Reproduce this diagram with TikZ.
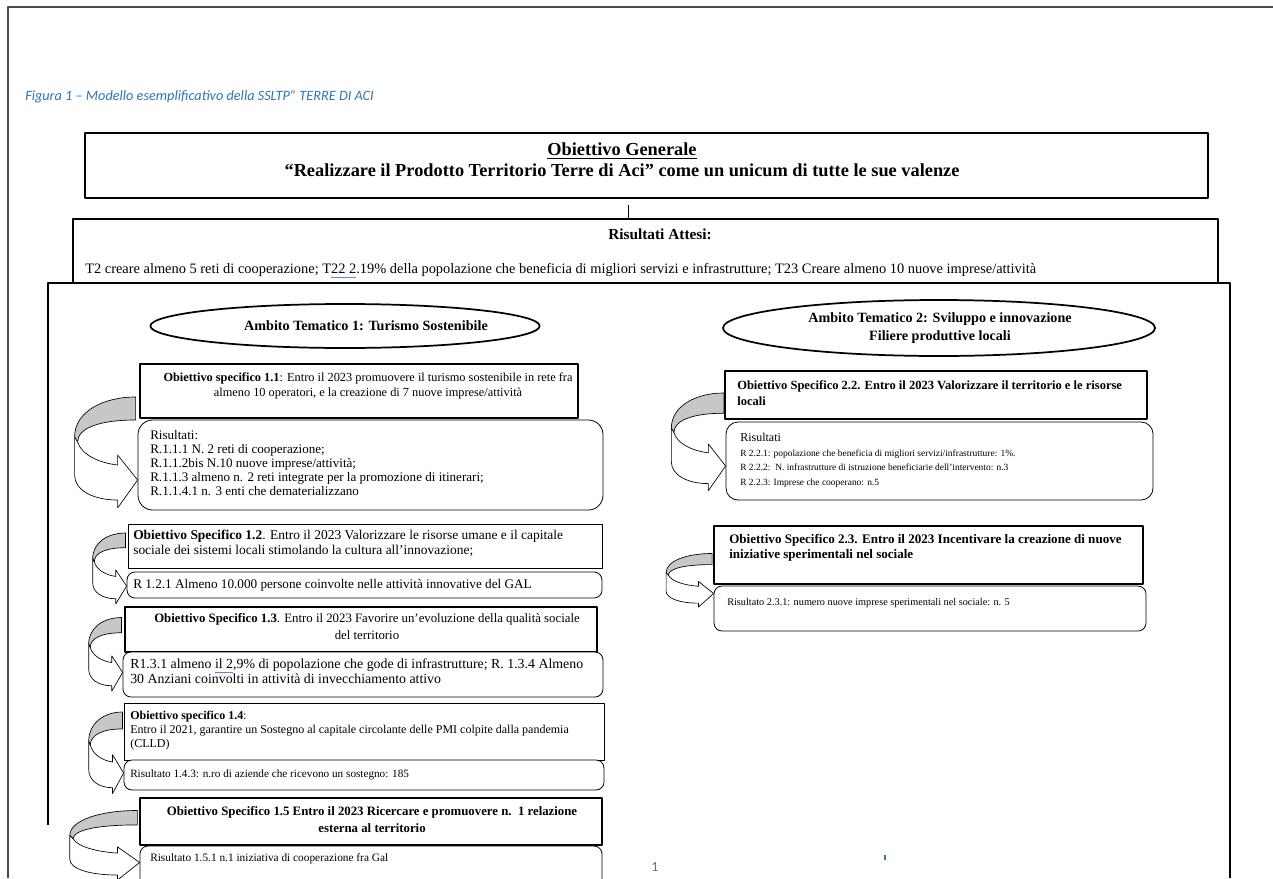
\documentclass[tikz,border=0pt]{standalone}
\usepackage{fontspec}
\setmainfont{Liberation Serif}
\newfontfamily\calibri{Carlito}
\usetikzlibrary{positioning,fit,calc,shapes.geometric}
\definecolor{capblue}{RGB}{46,116,181}

\tikzset{
	osbox/.style = {draw, line width=1.8pt, fill=white, inner sep=0pt},
	osthin/.style = {draw, line width=0.6pt, fill=white, inner sep=0pt},
	resbox/.style = {draw, line width=0.6pt, rounded corners=6pt, fill=white, inner sep=0pt},
	ambito/.style = {draw, ellipse, line width=1.3pt, inner sep=0pt},
	ambtxt/.style = {inner sep=0pt, align=center, font=\fontsize{10.6}{13.5}\selectfont\bfseries},
	txt/.style = {inner sep=0pt, align=left},
	ctxt/.style = {inner sep=0pt, align=center},
	squiggle/.style = {capblue!80, line width=0.6pt}
}

% curved arrow from an objective to its results: tip, width, height (px)
\newcommand\curvarrow[3]{%
	\begin{scope}[shift={(#1)}, xscale=#2/65, yscale=#3/83, line width=0.5pt]
		\filldraw[fill=black!22] (-2,-83) .. controls (-35,-83) and (-63,-68) .. (-63,-43)
			-- (-60,-38) .. controls (-60,-52) and (-38,-60) .. (-2,-60) -- cycle;
		\filldraw[fill=white] (-63,-43) -- (-63,-5) .. controls (-63,10) and (-45,20) .. (-20,20)
			-- (-20,28) -- (0,0) -- (-20,-25) -- (-20,-15)
			.. controls (-38,-17) and (-56,-25) .. (-60,-38) -- cycle;
	\end{scope}}

\begin{document}
\begin{tikzpicture}[x=0.75pt, y=-0.75pt, line join=round]
	\useasboundingbox (0,0) rectangle (1273,878);
	\clip (0,0) rectangle (1273,878);
	\draw[line width=1pt, black!70] (8,878) -- (8,7) -- (1273,7);
	\node[anchor=mid west, inner sep=0pt, text=capblue, font=\calibri\itshape\fontsize{10.7}{12}\selectfont] (fig) at (25,97) {Figura 1 – Modello esemplificativo della SSLTP” TERRE DI ACI};

	% obiettivo generale
	\node[draw, line width=0.8pt, inner sep=0pt, fit={(85,133) (1208,198)}] (og) {};
	\node[ctxt, anchor=north, font=\fontsize{13.75}{15.75}\selectfont\bfseries] (ogt) at (622,143) {\underline{Obiettivo Generale}\\“Realizzare il Prodotto Territorio Terre di Aci” come un unicum di tutte le sue valenze};
	\node[draw, line width=0.8pt, inner sep=0pt, fit={(73,219) (1218,300)}] (ra) {};
	\coordinate (c1) at (628,205);
	\draw (c1) -- (c1 |- ra.north);
	\node[anchor=mid, inner sep=0pt, font=\fontsize{11.5}{13}\selectfont\bfseries] (rat) at (660,236) {Risultati Attesi:};
	\node[anchor=mid west, inner sep=0pt, font=\fontsize{10.8}{12}\selectfont] (rat2) at (85,270) {T2 creare almeno 5 reti di cooperazione; T22 2.19\% della popolazione che beneficia di migliori servizi e infrastrutture; T23 Creare almeno 10 nuove imprese/attività};
	\draw[squiggle] (331,277) -- (356,277);

	% ambiti
	\fill[white] (48,283) rectangle (1230,878);
	\draw[line width=0.8pt] (48,825) -- (48,283) -- (1230,283) -- (1230,878);
	\node[ambito, minimum width=292pt, minimum height=33pt] (amb1) at (345,326) {};
	\node[ambtxt] (amb1t) at (366,326) {Ambito Tematico 1: Turismo Sostenibile};
	\node[ambito, minimum width=324pt, minimum height=42pt] (amb2) at (939,328) {};
	\node[ambtxt] (amb2t) at (940,328) {Ambito Tematico 2: Sviluppo e innovazione\\Filiere produttive locali};

	% boxes, left
	\node[osbox, fit={(140,364) (578,418)}] (os11) {};
	\node[resbox, rounded corners=11pt, fit={(138,420) (603,510)}] (r11) {};
	\node[osthin, fit={(128,524) (602,568)}] (os12) {};
	\node[resbox, fit={(127,572) (602,598)}] (r12) {};
	\node[osbox, fit={(125,607) (597,652)}] (os13) {};
	\node[resbox, fit={(123,652) (603,697)}] (r13) {};
	\node[osthin, fit={(124,703) (604,760)}] (os14) {};
	\node[resbox, fit={(124,760) (604,790)}] (r14) {};
	\node[osbox, fit={(140,798) (602,845)}] (os15) {};
	\node[resbox, fit={(140,846) (602,895)}] (r15) {};
	% boxes, right
	\node[osbox, fit={(725,371) (1147,419)}] (os22) {};
	\node[resbox, rounded corners=9pt, fit={(726,422) (1153,500)}] (r22) {};
	\node[osbox, fit={(714,526) (1143,584)}] (os23) {};
	\node[resbox, fit={(714,586) (1146,631)}] (r23) {};

	% arrows
	\curvarrow{$(r11.west)+(0,15)$}{65}{83}
	\curvarrow{$(r12.west)+(0,1)$}{35}{53}
	\curvarrow{$(r13.west)+(0,-2)$}{35}{55}
	\curvarrow{$(r14.west)+(0,-2)$}{36}{61}
	\curvarrow{$(r15.west)+(0,-8)$}{72}{52}
	\curvarrow{$(r22.west)+(0,5)$}{56}{73}
	\curvarrow{$(r23.west)+(0,-15)$}{49}{40}

	% texts, left
	\node[ctxt, anchor=north, font=\fontsize{9.25}{11.25}\selectfont] (os11t) at (368,372.5) {\textbf{Obiettivo specifico 1.1}: Entro il 2023 promuovere il turismo sostenibile in rete fra\\almeno 10 operatori, e la creazione di 7 nuove imprese/attività};
	\node[txt, anchor=north west, font=\fontsize{9.8}{10.5}\selectfont] (r11t) at (150,430) {Risultati:\\R.1.1.1 N. 2 reti di cooperazione;\\R.1.1.2bis N.10 nuove imprese/attività;\\R.1.1.3 almeno n. 2 reti integrate per la promozione di itinerari;\\R.1.1.4.1 n. 3 enti che dematerializzano};
	\node[txt, anchor=north west, font=\fontsize{10.1}{11.25}\selectfont] (os12t) at (133,530) {\textbf{Obiettivo Specifico 1.2}. Entro il 2023 Valorizzare le risorse umane e il capitale\\sociale dei sistemi locali stimolando la cultura all’innovazione;};
	\node[anchor=mid west, inner sep=0pt, font=\fontsize{9.9}{11.25}\selectfont] (r12t) at (133,585) {R 1.2.1 Almeno 10.000 persone coinvolte nelle attività innovative del GAL};
	\node[ctxt, anchor=north, font=\fontsize{9.6}{12.75}\selectfont] (os13t) at (367,613) {\textbf{Obiettivo Specifico 1.3}. Entro il 2023 Favorire un’evoluzione della qualità sociale\\del territorio};
	\node[txt, anchor=north west, font=\fontsize{10.4}{11.25}\selectfont] (r13t) at (130,658.8) {R1.3.1 almeno il 2,9\% di popolazione che gode di infrastrutture; R. 1.3.4 Almeno\\30 Anziani coinvolti in attività di invecchiamento attivo};
	\draw[squiggle] (215,672) -- (233,672);
	\node[txt, anchor=north west, font=\fontsize{9}{10.5}\selectfont] (os14t) at (130,710.6) {\textbf{Obiettivo specifico 1.4}:\\Entro il 2021, garantire un Sostegno al capitale circolante delle PMI colpite dalla pandemia\\(CLLD)};
	\node[anchor=mid west, inner sep=0pt, font=\fontsize{8.4}{10}\selectfont] (r14t) at (130,774) {Risultato 1.4.3: n.ro di aziende che ricevono un sostegno: 185};
	\node[ctxt, anchor=north, font=\fontsize{9.6}{12.75}\selectfont\bfseries] (os15t) at (372,806.2) {Obiettivo Specifico 1.5 Entro il 2023 Ricercare e promuovere n.~~1 relazione\\esterna al territorio};
	\node[anchor=mid west, inner sep=0pt, font=\fontsize{8.5}{10}\selectfont] (r15t) at (150,858) {Risultato 1.5.1 n.1 iniziativa di cooperazione fra Gal};

	% texts, right
	\node[txt, anchor=north west, font=\fontsize{9.4}{12}\selectfont\bfseries] (os22t) at (737,380.5) {Obiettivo Specifico 2.2. Entro il 2023 Valorizzare il territorio e le risorse\\locali};
	\node[txt, anchor=north west, font=\fontsize{7.1}{11}\selectfont] (r22t) at (740,433) {{\fontsize{9}{11}\selectfont Risultati}\\R 2.2.1: popolazione che beneficia di migliori servizi/infrastrutture: 1\%.\\R 2.2.2:~~N. infrastrutture di istruzione beneficiarie dell’intervento: n.3\\R 2.2.3: Imprese che cooperano: n.5};
	\node[txt, anchor=north west, font=\fontsize{9.8}{11.25}\selectfont\bfseries] (os23t) at (729,534) {Obiettivo Specifico 2.3. Entro il 2023 Incentivare la creazione di nuove\\iniziative sperimentali nel sociale};
	\node[anchor=mid west, inner sep=0pt, font=\fontsize{7.7}{10}\selectfont] (r23t) at (727,602) {Risultato 2.3.1: numero nuove imprese sperimentali nel sociale: n. 5};

	\node[anchor=mid, inner sep=0pt, text=black!55, font=\calibri\fontsize{10.5}{12}\selectfont] (pg) at (655,868) {1};
	\draw[capblue, line width=0.8pt] (885,855) -- (885,860);
\end{tikzpicture}
\end{document}
